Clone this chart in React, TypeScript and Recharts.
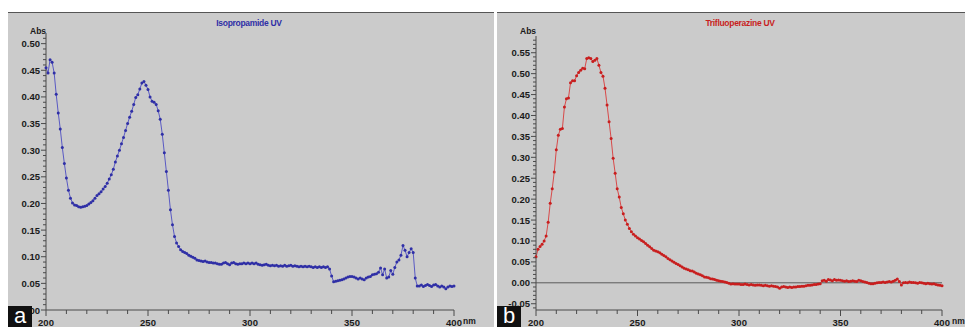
import { LineChart, Line, XAxis, YAxis, ReferenceLine } from 'recharts'

// wavelength grid (nm), one reading per nm
const wavelengths: number[] = []
for (let nm = 200; nm <= 400; nm++) wavelengths.push(nm)

// Isopropamide UV absorbance, 200..400 nm
const isopropamide = [
  0.455, 0.445, 0.47, 0.465, 0.445, 0.405, 0.37, 0.34, 0.305, 0.275,
  0.248, 0.225, 0.21, 0.201, 0.197, 0.196, 0.194, 0.193, 0.194, 0.195,
  0.196, 0.199, 0.202, 0.205, 0.21, 0.215, 0.218, 0.222, 0.227, 0.232,
  0.238, 0.246, 0.254, 0.264, 0.278, 0.289, 0.3, 0.312, 0.324, 0.337,
  0.35, 0.362, 0.373, 0.386, 0.399, 0.404, 0.415, 0.426, 0.429, 0.422,
  0.414, 0.4, 0.392, 0.39, 0.386, 0.374, 0.358, 0.33, 0.295, 0.26,
  0.225, 0.188, 0.16, 0.138, 0.126, 0.119, 0.113, 0.11, 0.108, 0.106,
  0.103, 0.101, 0.099, 0.097, 0.094, 0.093, 0.092, 0.091, 0.092, 0.09,
  0.089, 0.089, 0.088, 0.088, 0.087, 0.086, 0.086, 0.088, 0.089, 0.087,
  0.085, 0.088, 0.089, 0.087, 0.086, 0.087, 0.087, 0.088, 0.087, 0.088,
  0.087, 0.088, 0.087, 0.088, 0.086, 0.085, 0.084, 0.085, 0.086, 0.084,
  0.083, 0.084, 0.083, 0.084, 0.082, 0.083, 0.082, 0.084, 0.082, 0.083,
  0.084, 0.082, 0.083, 0.082, 0.081, 0.082, 0.081, 0.082, 0.081, 0.082,
  0.081, 0.08, 0.081, 0.08, 0.081, 0.08, 0.081, 0.08, 0.081, 0.077,
  0.064, 0.053, 0.054, 0.055, 0.056, 0.057, 0.058, 0.06, 0.062, 0.063,
  0.063, 0.062, 0.06, 0.058, 0.06, 0.058, 0.057, 0.06, 0.062, 0.063,
  0.066, 0.067, 0.068, 0.071, 0.079, 0.066, 0.077, 0.06, 0.062, 0.074,
  0.067, 0.08, 0.09, 0.094, 0.103, 0.121, 0.112, 0.1, 0.108, 0.115,
  0.108, 0.06, 0.045, 0.045, 0.047, 0.044, 0.046, 0.048, 0.046, 0.044,
  0.047, 0.048, 0.045, 0.043, 0.045, 0.043, 0.04, 0.043, 0.045, 0.044,
  0.045,
]

// Trifluoperazine UV absorbance, 200..400 nm
const trifluoperazine = [
  0.062, 0.08, 0.087, 0.092, 0.1, 0.112, 0.145, 0.19, 0.225, 0.265,
  0.318, 0.353, 0.367, 0.369, 0.42, 0.44, 0.442, 0.478, 0.483, 0.483,
  0.495, 0.503, 0.508, 0.513, 0.512, 0.536, 0.538, 0.536, 0.529, 0.532,
  0.536, 0.52, 0.503, 0.494, 0.465, 0.425, 0.385, 0.345, 0.298, 0.262,
  0.225, 0.205, 0.18, 0.165, 0.15, 0.14, 0.13, 0.122, 0.116, 0.112,
  0.108, 0.105, 0.101, 0.098, 0.094, 0.09, 0.086, 0.082, 0.078, 0.076,
  0.074, 0.072, 0.068, 0.065, 0.062, 0.058, 0.055, 0.052, 0.049, 0.046,
  0.044, 0.041, 0.038, 0.035, 0.033, 0.031, 0.029, 0.028, 0.026, 0.023,
  0.021, 0.019, 0.017, 0.014, 0.013, 0.012, 0.01, 0.009, 0.008, 0.006,
  0.005, 0.004, 0.003, 0.002, 0.001, -0.001, -0.003, -0.002, -0.003, -0.003,
  -0.003, -0.004, -0.004, -0.003, -0.004, -0.005, -0.004, -0.005, -0.006, -0.005,
  -0.005, -0.006, -0.007, -0.006, -0.007, -0.008, -0.007, -0.008, -0.009, -0.01,
  -0.013, -0.01, -0.009, -0.01, -0.011, -0.01, -0.011, -0.01, -0.01, -0.009,
  -0.009, -0.008, -0.008, -0.007, -0.006, -0.006, -0.005, -0.004, -0.004, -0.003,
  -0.002, 0.005, 0.006, 0.004, 0.008, 0.007, 0.005, 0.008, 0.006, 0.007,
  0.006, 0.005, 0.004, 0.005, 0.003, 0.004, 0.005, 0.004, 0.003, 0.006,
  0.005, 0.003, 0.002, 0.001, -0.001, -0.002, -0.002, -0.001, 0.0, 0.001,
  0.001, 0.002, 0.001, 0.002, 0.003, 0.002, 0.004, 0.006, 0.009, 0.003,
  -0.005, 0.0, 0.001, 0.0, 0.002, 0.001, 0.001, 0.0, -0.001, 0.001,
  0.0, -0.001, -0.002, -0.001, -0.002, -0.003, -0.002, -0.004, -0.005, -0.006,
  -0.007,
]

const xMajor = [200, 250, 300, 350, 400]
const yMajorA = [0, 0.05, 0.1, 0.15, 0.2, 0.25, 0.3, 0.35, 0.4, 0.45, 0.5]
const yMajorB = [-0.05, 0, 0.05, 0.1, 0.15, 0.2, 0.25, 0.3, 0.35, 0.4, 0.45, 0.5, 0.55]

const dataA = wavelengths.map((nm, i) => ({ nm, abs: isopropamide[i] }))
const dataB = wavelengths.map((nm, i) => ({ nm, abs: trifluoperazine[i] }))

// minor tick positions (every 10 nm, every 0.01 Abs)
const xTicks: number[] = []
for (let v = 200; v <= 400; v += 10) xTicks.push(v)
const yTicksA: number[] = []
for (let i = 0; i <= 51; i++) yTicksA.push(+(i / 100).toFixed(2))
const yTicksB: number[] = []
for (let i = -6; i <= 58; i++) yTicksB.push(+(i / 100).toFixed(2))

const FONT = 'Arial, "Liberation Sans", sans-serif'
const AXIS = '#4a4a4a'
const BG = '#cbcbcb'

const isMajor = (v: number, majors: number[]) => majors.some((m) => Math.abs(m - v) < 1e-6)

function makeYTick(majors: number[]) {
  return (props: any) => {
    const { x, y, payload } = props
    const major = isMajor(payload.value, majors)
    return (
      <g>
        <line x1={x - (major ? 5 : 3)} x2={x} y1={y} y2={y} stroke={AXIS} strokeWidth={1} />
        {major && (
          <text x={x - 6} y={y + 3.5} textAnchor="end" fontSize={9.5} fontWeight="bold" fontFamily={FONT} fill="#1a1a1a">
            {payload.value.toFixed(2)}
          </text>
        )}
      </g>
    )
  }
}

function XTick(props: any) {
  const { x, y, payload } = props
  const major = isMajor(payload.value, xMajor)
  return (
    <g>
      <line x1={x} x2={x} y1={y} y2={y + (major ? 6 : 4)} stroke={AXIS} strokeWidth={1} />
      {major && (
        <text x={x} y={y + 16} textAnchor="middle" fontSize={9.5} fontWeight="bold" fontFamily={FONT} fill="#1a1a1a">
          {payload.value}
        </text>
      )}
    </g>
  )
}

interface PanelProps {
  left: number
  width: number
  data: { nm: number; abs: number }[]
  domain: [number, number]
  yTicks: number[]
  yMajor: number[]
  yWidth: number
  top: number
  right: number
  color: string
  lineColor: string
  title: string
  titleX: number
  letter: string
  zeroLine?: boolean
}

function Panel(p: PanelProps) {
  const h = 315
  return (
    <div style={{ position: 'absolute', left: p.left, top: 12, width: p.width, height: h, background: BG, borderTop: '1.5px solid #555', boxSizing: 'border-box' }}>
      <LineChart width={p.width} height={h} data={p.data} margin={{ top: p.top - 1.5, right: p.right, bottom: 0, left: 0 }}>
        <XAxis
          dataKey="nm"
          type="number"
          domain={[200, 400]}
          ticks={xTicks}
          interval={0}
          height={18}
          tickSize={0}
          tickMargin={0}
          tickLine={false}
          tick={XTick}
          axisLine={{ stroke: AXIS, strokeWidth: 1 }}
        />
        <YAxis
          type="number"
          domain={p.domain}
          ticks={p.yTicks}
          interval={0}
          width={p.yWidth}
          tickSize={0}
          tickMargin={0}
          tickLine={false}
          tick={makeYTick(p.yMajor)}
          axisLine={{ stroke: AXIS, strokeWidth: 1 }}
          allowDataOverflow
        />
        {p.zeroLine && <ReferenceLine y={0} stroke="#5a5a5a" strokeWidth={1} />}
        <Line
          type="linear"
          dataKey="abs"
          stroke={p.lineColor}
          strokeWidth={1}
          dot={{ r: 1.5, fill: p.color, stroke: 'none' }}
          isAnimationActive={false}
        />
      </LineChart>
      <div style={{ position: 'absolute', left: p.titleX - 60, top: 5, width: 120, textAlign: 'center', fontFamily: FONT, fontWeight: 'bold', fontSize: 8.5, color: p.color, letterSpacing: -0.3 }}>
        {p.title}
      </div>
      <div style={{ position: 'absolute', left: p.yWidth - 16, top: 13, fontFamily: FONT, fontWeight: 'bold', fontSize: 8.5, color: '#1a1a1a' }}>Abs</div>
      <div style={{ position: 'absolute', left: 0, top: 293, width: 24, height: 22, background: '#111', color: '#fff', fontFamily: FONT, fontSize: 22, lineHeight: '20px', textAlign: 'center' }}>
        {p.letter}
      </div>
    </div>
  )
}

export default function App() {
  return (
    <div style={{ position: 'absolute', left: 0, top: 0, width: 965, height: 327, background: '#fff', overflow: 'hidden' }}>
      <Panel
        left={8}
        width={486}
        data={dataA}
        domain={[0, 0.52]}
        yTicks={yTicksA}
        yMajor={yMajorA}
        yWidth={38}
        top={21.5}
        right={40}
        color="#2f2fa6"
        lineColor="#5a5ac4"
        title="Isopropamide UV"
        titleX={241}
        letter="a"
      />
      <div style={{ position: 'absolute', left: 463, top: 316, fontFamily: FONT, fontWeight: 'bold', fontSize: 8.5, color: '#1a1a1a' }}>nm</div>
      <Panel
        left={497}
        width={468}
        data={dataB}
        domain={[-0.065, 0.59]}
        yTicks={yTicksB}
        yMajor={yMajorB}
        yWidth={39}
        top={24.5}
        right={23}
        color="#c81e1e"
        lineColor="#d84a4a"
        title="Trifluoperazine UV"
        titleX={243}
        letter="b"
        zeroLine
      />
      <div style={{ position: 'absolute', left: 952, top: 316, fontFamily: FONT, fontWeight: 'bold', fontSize: 8.5, color: '#1a1a1a' }}>nm</div>
    </div>
  )
}
